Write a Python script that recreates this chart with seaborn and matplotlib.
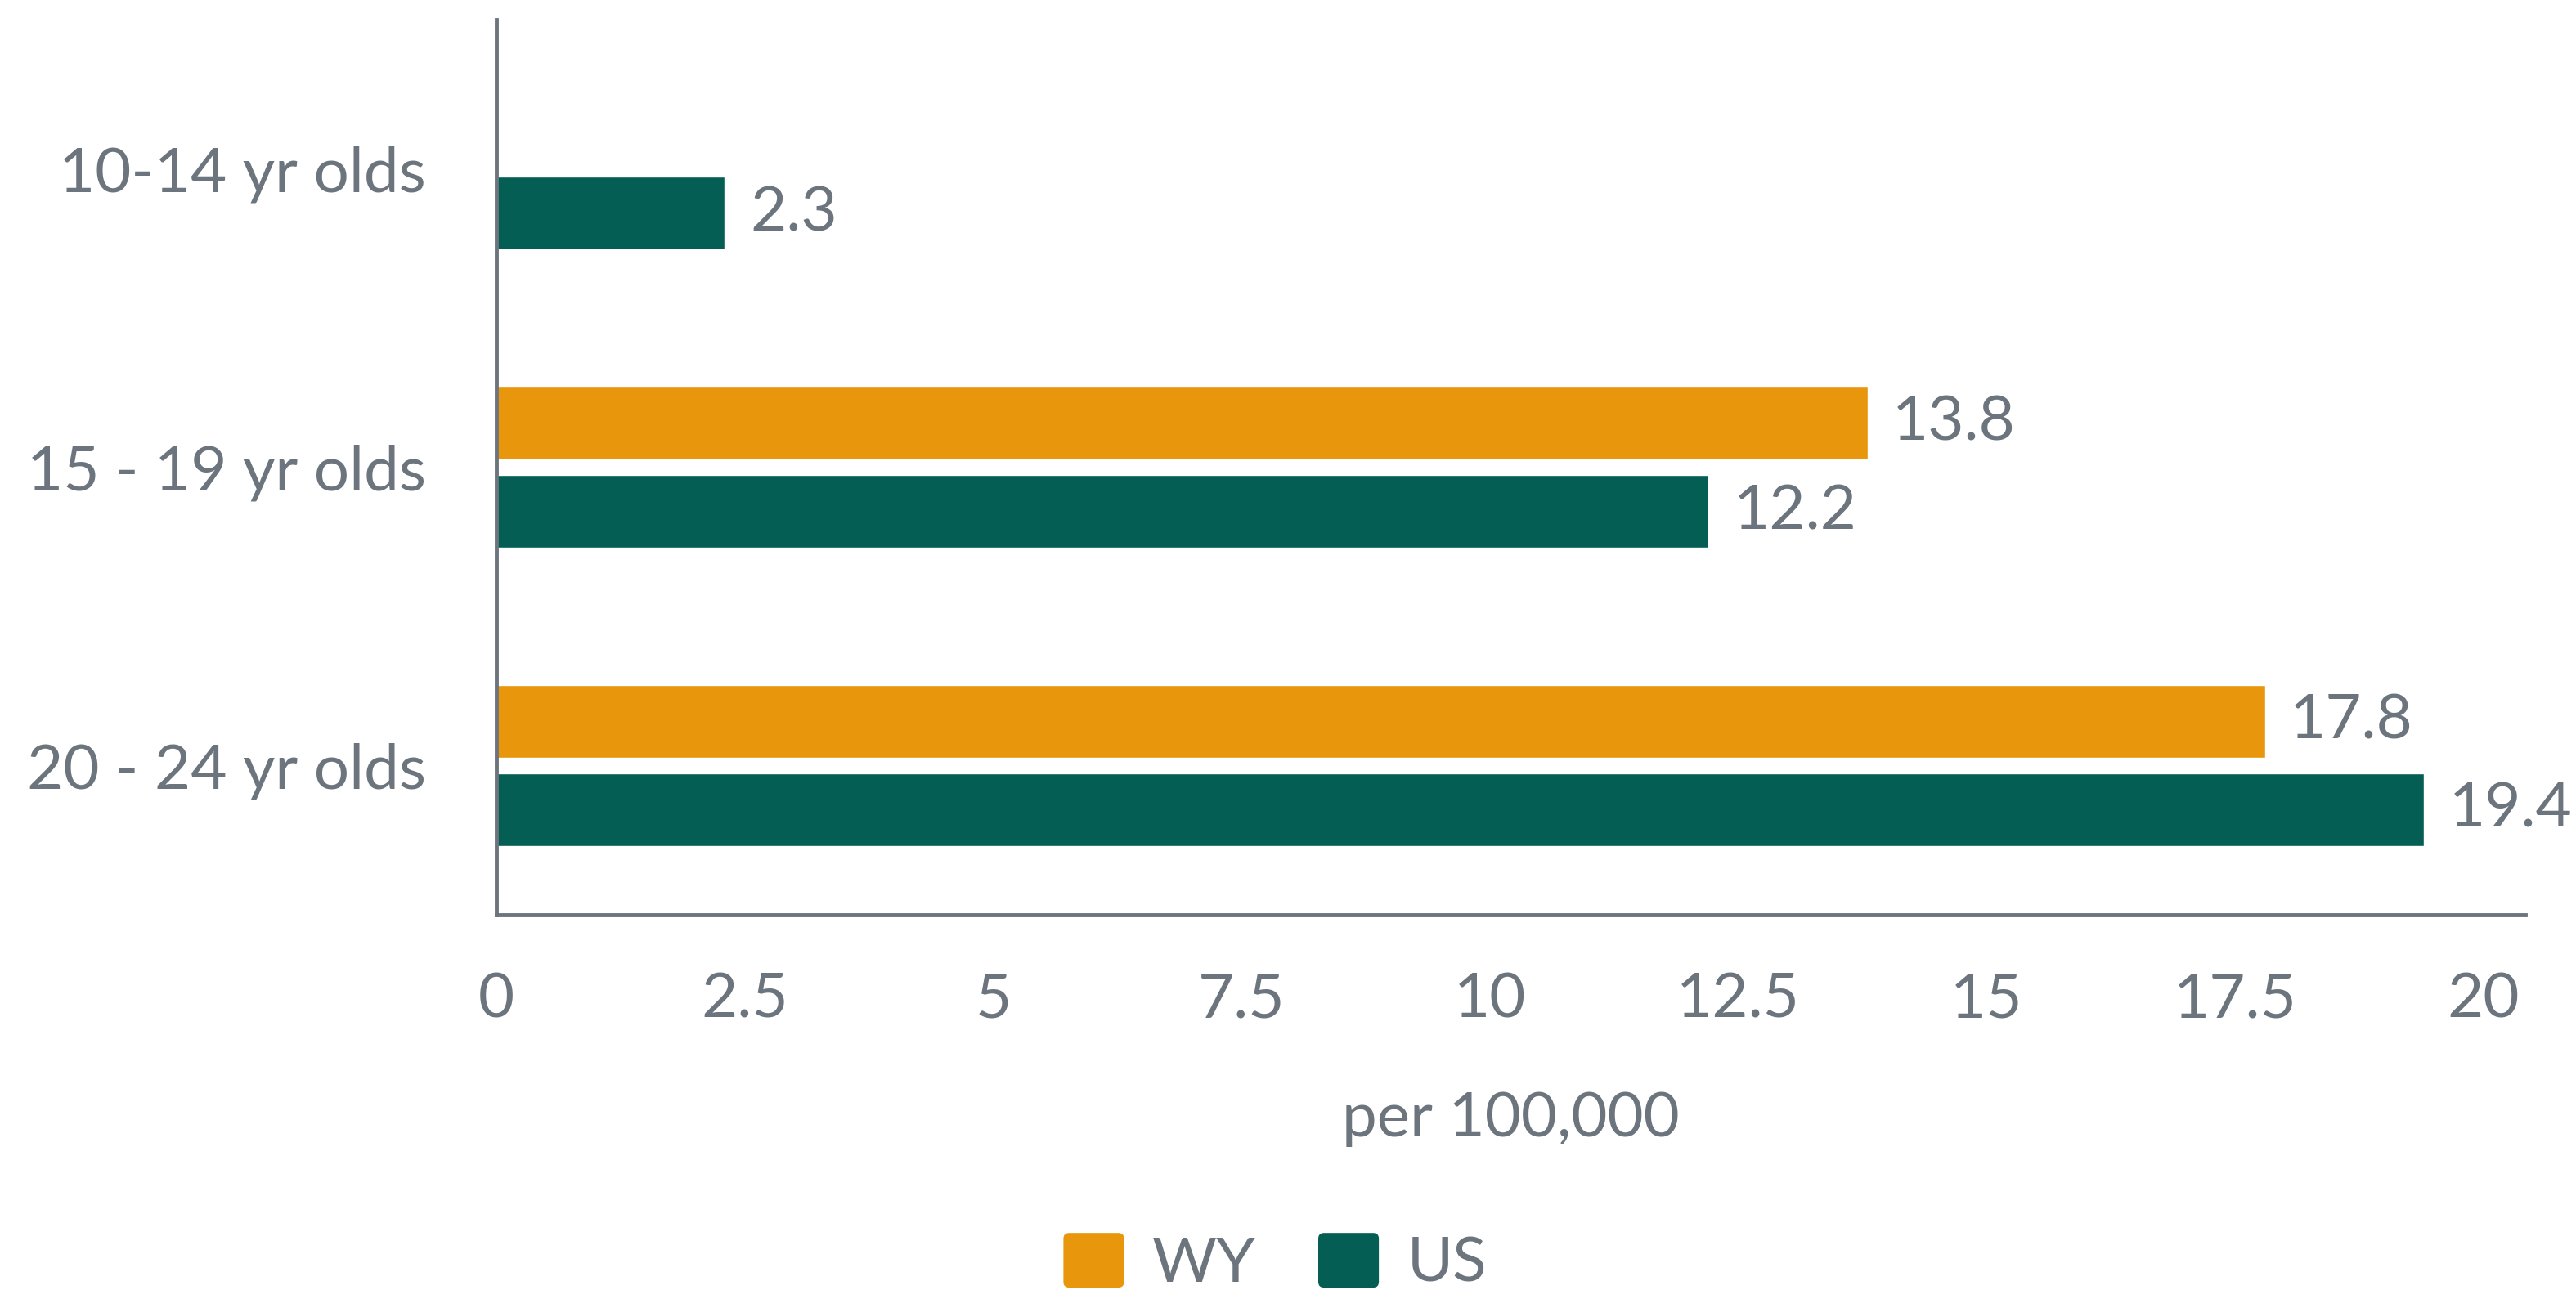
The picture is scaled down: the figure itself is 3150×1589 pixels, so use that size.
import matplotlib
matplotlib.use("Agg")
import numpy as np
import pandas as pd
import seaborn as sns
import matplotlib.pyplot as plt
from matplotlib.patches import FancyBboxPatch, Patch
from matplotlib.legend_handler import HandlerPatch

# ---- data ----
categories = ["10-14 yr olds", "15 - 19 yr olds", "20 - 24 yr olds"]
series = ["WY", "US"]
wy_values = [np.nan, 13.8, 17.8]
us_values = [2.3, 12.2, 19.4]
x_ticks = [0, 2.5, 5, 7.5, 10, 12.5, 15, 17.5, 20]
x_tick_labels = ["0", "2.5", "5", "7.5", "10", "12.5", "15", "17.5", "20"]
x_label = "per 100,000"

colors = {"WY": "#E8960C", "US": "#045E54"}
text_color = "#6C757D"

df = pd.DataFrame({
    "group": categories * 2,
    "series": ["WY"] * len(categories) + ["US"] * len(categories),
    "value": wy_values + us_values,
})

sns.set_theme(style="white")
plt.rcParams["font.family"] = ["Lato", "DejaVu Sans"]

FS = 55

fig = plt.figure(figsize=(31.5, 15.89), dpi=100)
ax = fig.add_axes([0.1927, 0.2958, 0.7876, 0.6891])

sns.barplot(data=df, y="group", x="value", hue="series", hue_order=series,
            order=categories, orient="h", palette=colors, saturation=1,
            width=0.592, gap=0.17, errorbar=None, legend=False, ax=ax)

for cont in ax.containers:
    labels = [("" if np.isnan(b.get_width()) else f"{b.get_width():.1f}") for b in cont]
    ax.bar_label(cont, labels=labels, padding=22, fontsize=FS, color=text_color)

ax.set_xlim(0, 20.42)
ax.set_ylim(2.5, -0.5)
ax.set_xticks(x_ticks)
ax.set_xticklabels(x_tick_labels)
ax.tick_params(axis="x", length=0, pad=50, labelsize=FS, labelcolor=text_color)
ax.tick_params(axis="y", length=0, pad=62, labelsize=FS, labelcolor=text_color)
ax.set_xlabel(x_label, fontsize=FS, color=text_color, labelpad=55)
ax.set_ylabel("")

for s in ["top", "right"]:
    ax.spines[s].set_visible(False)
for s in ["left", "bottom"]:
    ax.spines[s].set_color(text_color)
    ax.spines[s].set_linewidth(3.5)


class RoundHandler(HandlerPatch):
    def create_artists(self, legend, orig_handle, xdescent, ydescent, width, height, fontsize, trans):
        p = FancyBboxPatch((-xdescent, -ydescent), width, height,
                           boxstyle="round,pad=0,rounding_size=5",
                           facecolor=orig_handle.get_facecolor(), edgecolor="none",
                           transform=trans)
        return [p]


handles = [Patch(facecolor=colors[s], label=s) for s in series]
fig.legend(handles=handles, loc="center", bbox_to_anchor=(0.495, 0.028), ncol=2,
           frameon=False, fontsize=FS, labelcolor=text_color,
           handlelength=0.97, handleheight=0.97, handletextpad=0.45, columnspacing=1.0,
           handler_map={Patch: RoundHandler()})

fig.savefig("out.png", dpi=100)
